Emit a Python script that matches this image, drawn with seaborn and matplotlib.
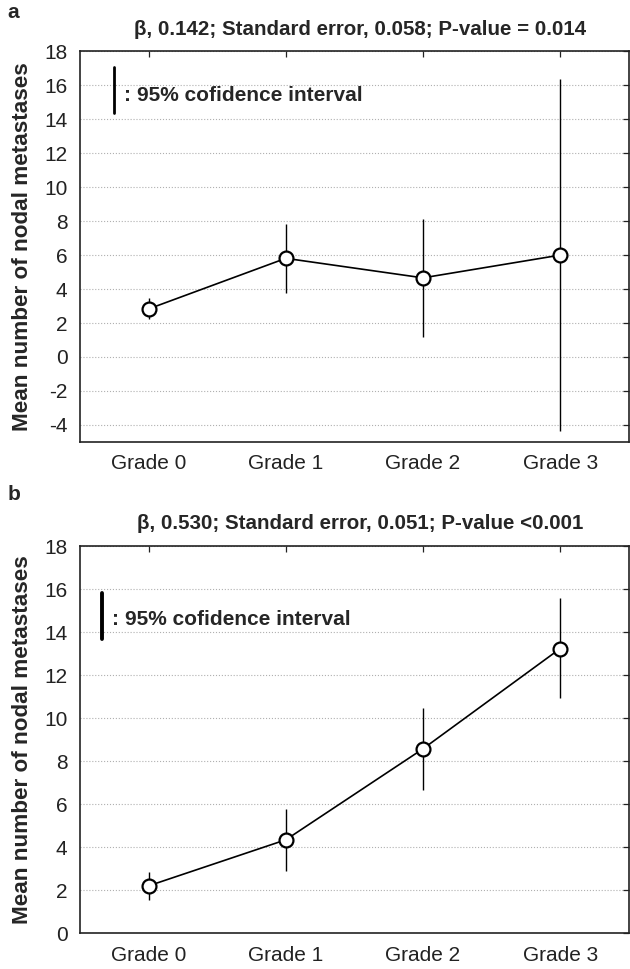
import numpy as np
import pandas as pd
import matplotlib
matplotlib.use("Agg")
import matplotlib.pyplot as plt
import seaborn as sns

grades = ["Grade 0", "Grade 1", "Grade 2", "Grade 3"]

# panel a
mean_a = [2.83, 5.81, 4.66, 6.0]
lo_a = [2.22, 3.78, 1.19, -4.37]
hi_a = [3.49, 7.86, 8.13, 16.4]
title_a = "β, 0.142; Standard error, 0.058; P-value = 0.014"

# panel b
mean_b = [2.2, 4.34, 8.57, 13.23]
lo_b = [1.54, 2.91, 6.65, 10.95]
hi_b = [2.86, 5.77, 10.49, 15.57]
title_b = "β, 0.530; Standard error, 0.051; P-value <0.001"

ylab = "Mean number of nodal metastases"

sns.set_theme(style="white")
plt.rcParams["font.family"] = ["Liberation Sans", "DejaVu Sans"]
plt.rcParams["axes.unicode_minus"] = False


def draw_panel(ax, mean, lo, hi, title, ylim, yticks, bar_x, bar_y, txt_y, bar_lw):
    df = pd.DataFrame({"grade": grades, "mean": mean, "lo": lo, "hi": hi})
    ax.vlines(df["grade"], df["lo"], df["hi"], color="black", lw=1.0, zorder=2)
    sns.lineplot(data=df, x="grade", y="mean", ax=ax, color="black", lw=1.2,
                 marker="o", markersize=10, markerfacecolor="white",
                 markeredgecolor="black", markeredgewidth=1.6, zorder=3, sort=False)
    ax.set_xlim(-0.5, 3.5)
    ax.set_ylim(*ylim)
    ax.set_yticks(yticks)
    ax.set_xlabel("")
    ax.set_ylabel(ylab, fontsize=16.2, fontweight="bold", labelpad=8)
    ax.set_title(title, fontsize=14.8, fontweight="bold", pad=12, x=0.51)
    ax.yaxis.grid(True, ls=":", color="#b0b0b0", lw=0.8)
    ax.set_axisbelow(True)
    for s in ax.spines.values():
        s.set_visible(True)
        s.set_color("#222222")
        s.set_linewidth(1.2)
    ax.tick_params(direction="in", length=4, width=0.9, top=True, right=True,
                   labelsize=15, colors="#222222", pad=9)
    ax.tick_params(axis="y", pad=9)
    # legend: short vertical bar + text
    ax.plot([bar_x, bar_x], bar_y, transform=ax.transAxes, color="black", lw=bar_lw)
    ax.text(bar_x + 0.018, txt_y, ":", transform=ax.transAxes,
            fontsize=15, fontweight="bold", va="center")
    ax.text(bar_x + 0.042, txt_y, "95% cofidence interval", transform=ax.transAxes,
            fontsize=15, fontweight="bold", va="center")


fig = plt.figure(figsize=(6.3, 9.69), dpi=100)
ax_a = fig.add_axes([0.127, 0.544, 0.871, 0.403])
ax_b = fig.add_axes([0.127, 0.037, 0.871, 0.3995])

draw_panel(ax_a, mean_a, lo_a, hi_a, title_a, (-5, 18), np.arange(-4, 19, 2),
           0.062, (0.843, 0.959), 0.887, 2.0)
draw_panel(ax_b, mean_b, lo_b, hi_b, title_b, (0, 18), np.arange(0, 19, 2),
           0.04, (0.761, 0.878), 0.809, 2.8)

fig.text(0.012, 0.997, "a", fontsize=15, fontweight="bold", va="top")
fig.text(0.012, 0.5, "b", fontsize=15, fontweight="bold", va="top")

fig.savefig("out.png", dpi=100)
